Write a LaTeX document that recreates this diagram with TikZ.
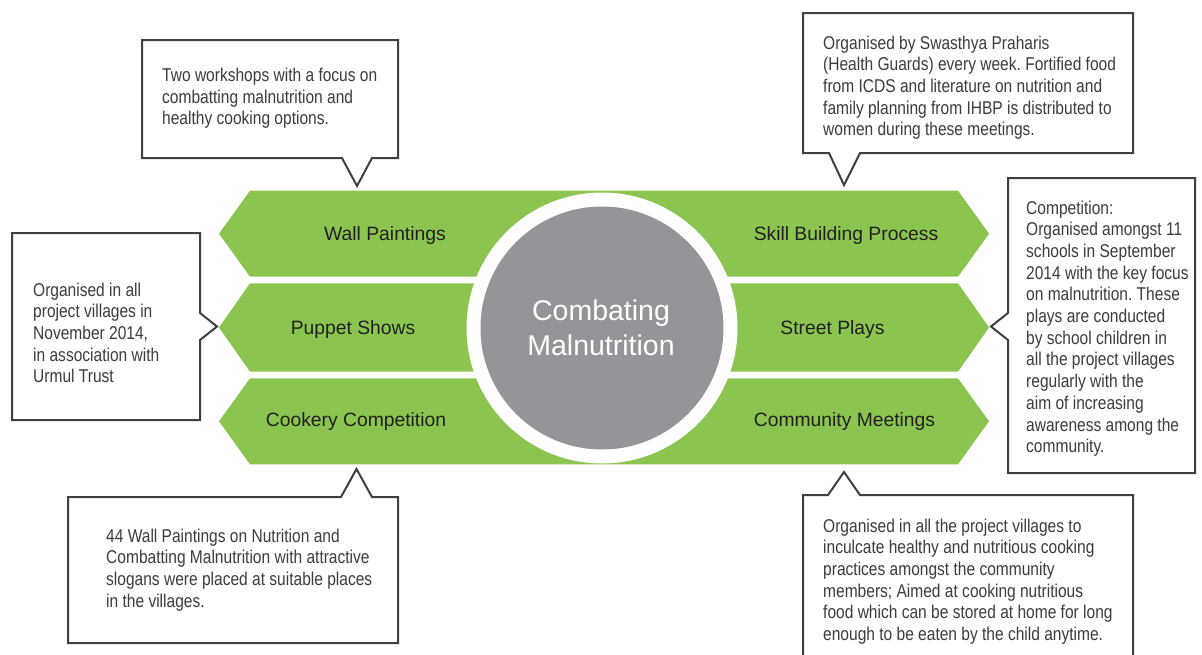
\documentclass[tikz,border=0pt]{standalone}
\usepackage{fontspec}
\setmainfont{Liberation Sans}
\newfontfamily\narrowfont[FakeStretch=0.84]{Liberation Sans}
\frenchspacing
\definecolor{leafgreen}{RGB}{139,197,80}
\definecolor{hubgray}{RGB}{147,149,152}
\definecolor{inkgray}{RGB}{60,60,60}
\definecolor{framegray}{RGB}{64,64,64}
\definecolor{labelink}{RGB}{35,31,32}
\newcommand{\calltext}[1]{\begin{tabular}[t]{@{}l@{}}#1\end{tabular}}
\newcommand{\hubtext}[1]{\begin{tabular}[t]{@{}c@{}}#1\end{tabular}}
\tikzset{
  band/.style={fill=leafgreen, draw=none},
  callout/.style={draw=framegray, line width=2pt, fill=white, line join=miter},
  note/.style={anchor=base west, inner sep=0pt, text=inkgray,
    font=\narrowfont\frenchspacing\fontsize{18.5}{21.7}\selectfont},
  bandlabel/.style={anchor=base, inner sep=0pt, text=labelink,
    font=\fontsize{19.3}{23}\selectfont},
}
\begin{document}
\begin{tikzpicture}[x=1pt,y=-1pt]
\useasboundingbox (0,0) rectangle (1202,654);
\clip (0,0) rectangle (1202,654);
\fill[white] (0,0) rectangle (1202,654);

% three green bands, pointed at both ends
\fill[band] (219,233.7) -- (250,190.7) -- (958,190.7) -- (989,233.7) -- (958,276.7) -- (250,276.7) -- cycle;
\fill[band] (219,327.5) -- (250,283.3) -- (958,283.3) -- (989,327.5) -- (958,371.7) -- (250,371.7) -- cycle;
\fill[band] (219,421.3) -- (250,378.3) -- (958,378.3) -- (989,421.3) -- (958,464.3) -- (250,464.3) -- cycle;

% central hub
\fill[white] (602,328) circle[radius=135.5];
\fill[hubgray] (602,328) circle[radius=121.5];
\node (hub) [anchor=base, inner sep=0pt, text=white, font=\fontsize{28.5}{35}\selectfont]
  at (601,320) {\hubtext{Combating\\Malnutrition}};

% band labels
\node (wall)    [bandlabel] at (385,240)   {Wall Paintings};
\node (puppet)  [bandlabel] at (353,334)   {Puppet Shows};
\node (cookery) [bandlabel] at (356,426.7) {Cookery Competition};
\node (skill)   [bandlabel] at (846,240)   {Skill Building Process};
\node (street)  [bandlabel] at (832.5,334) {Street Plays};
\node (meet)    [bandlabel] at (844.5,426.7) {Community Meetings};

% callout frames
\draw[callout] (142,40) -- (398,40) -- (398,158) -- (372,158) -- (357,186) -- (342,158) -- (142,158) -- cycle;
\draw[callout] (803,13) -- (1133,13) -- (1133,153) -- (860,153) -- (844,185) -- (829,153) -- (803,153) -- cycle;
\draw[callout] (12,233) -- (200,233) -- (200,313) -- (217,326.5) -- (200,340) -- (200,420) -- (12,420) -- cycle;
\draw[callout] (1008,178) -- (1195,178) -- (1195,473) -- (1008,473) -- (1008,340) -- (991,326.5) -- (1008,313) -- cycle;
\draw[callout] (68,497) -- (341,497) -- (356.5,469) -- (372,497) -- (398,497) -- (398,643) -- (68,643) -- cycle;
\draw[callout] (803,495) -- (828,495) -- (844,472) -- (860,495) -- (1133,495) -- (1133,680) -- (803,680) -- cycle;

% callout texts
\node (noteTL) [note] at (162,81.5) {\calltext{Two workshops with a focus on\\combatting malnutrition and\\healthy cooking options.}};
\node (noteTR) [note] at (823,49) {\calltext{Organised by Swasthya Praharis\\(Health Guards) every week. Fortified food\\from ICDS and literature on nutrition and\\family planning from IHBP is distributed to\\women during these meetings.}};
\node (noteLM) [note] at (33,296) {\calltext{Organised in all\\project villages in\\November 2014,\\in association with\\Urmul Trust}};
\node (noteRM) [note] at (1026,214) {\calltext{Competition:\\Organised amongst 11\\schools in September\\2014 with the key focus\\on malnutrition. These\\plays are conducted\\by school children in\\all the project villages\\regularly with the\\aim of increasing\\awareness among the\\community.}};
\node (noteBL) [note] at (106,542) {\calltext{44 Wall Paintings on Nutrition and\\Combatting Malnutrition with attractive\\slogans were placed at suitable places\\in the villages.}};
\node (noteBR) [note] at (823,532) {\calltext{Organised in all the project villages to\\inculcate healthy and nutritious cooking\\practices amongst the community\\members; Aimed at cooking nutritious\\food which can be stored at home for long\\enough to be eaten by the child anytime.}};
\end{tikzpicture}
\end{document}
